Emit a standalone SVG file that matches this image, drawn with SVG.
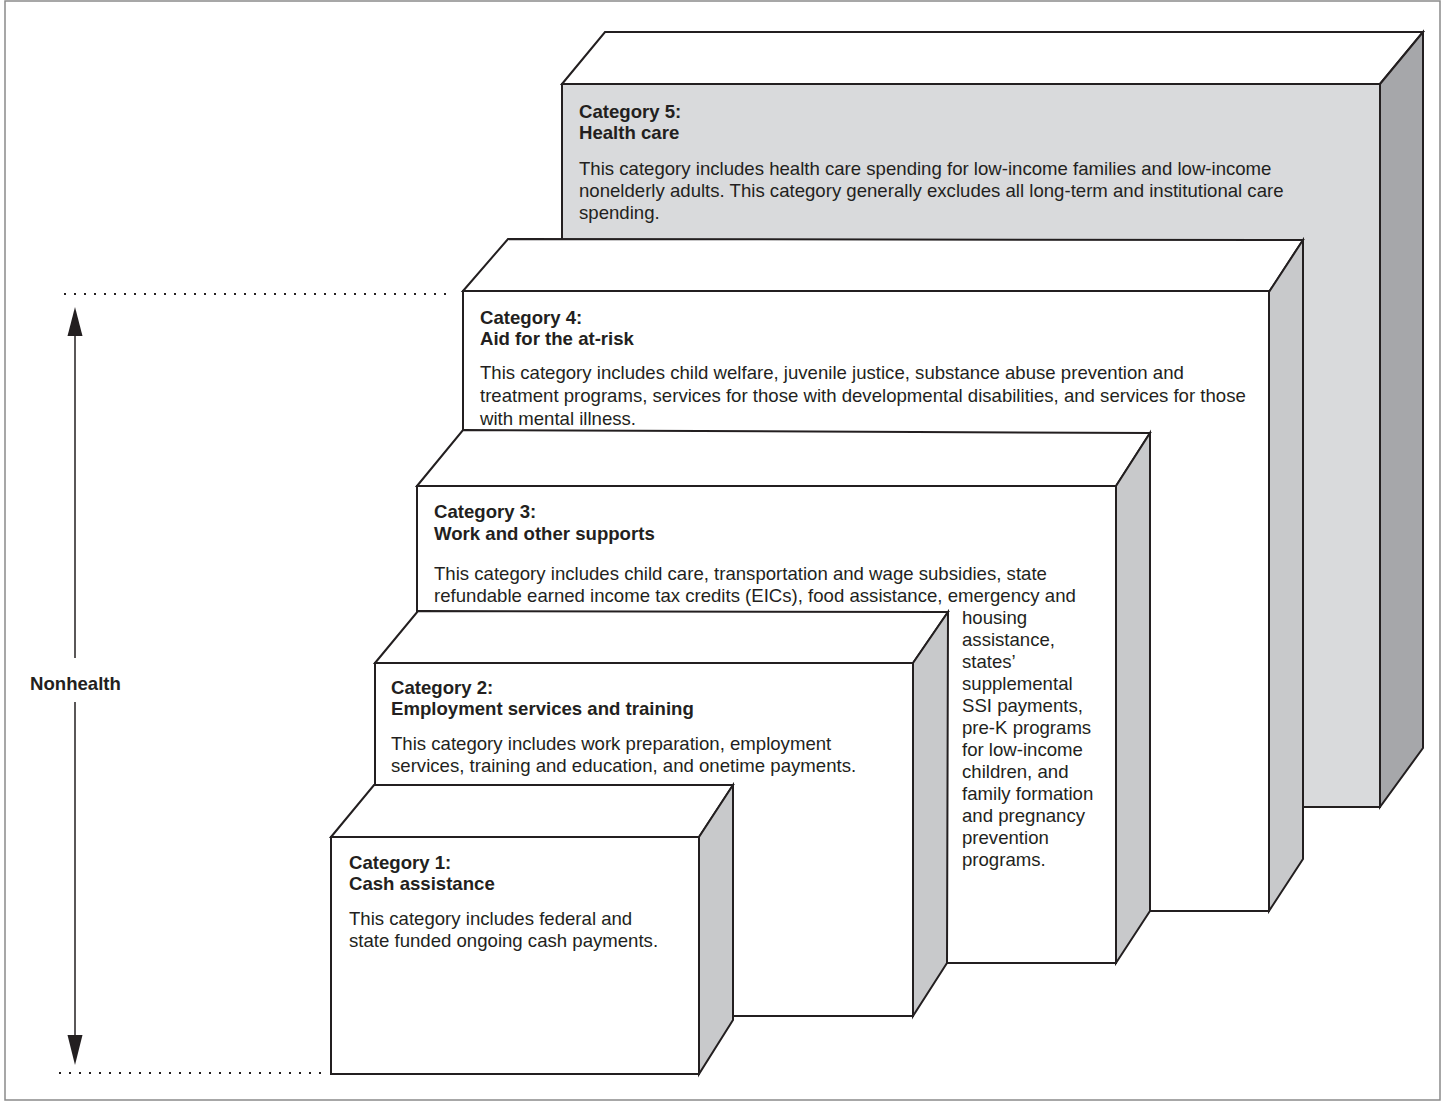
<svg xmlns="http://www.w3.org/2000/svg" width="1445" height="1102" viewBox="0 0 1445 1102">
<style>
.bg{fill:#ffffff}
.frame{fill:none;stroke:#8a8a8a;stroke-width:1.5}
.top{fill:#ffffff;stroke:#231f20;stroke-width:2;stroke-linejoin:miter}
.front{fill:#ffffff;stroke:#231f20;stroke-width:2}
.front5{fill:#d9dadc;stroke:#231f20;stroke-width:2}
.side{fill:#c8c9cb;stroke:#231f20;stroke-width:2;stroke-linejoin:miter}
.side5{fill:#a6a7aa;stroke:#231f20;stroke-width:2;stroke-linejoin:miter}
text{font-family:"Liberation Sans",Arial,sans-serif;font-size:18.6px;fill:#231f20}
.b{font-weight:bold}
.dot{stroke:#231f20;stroke-width:2;stroke-dasharray:2 8;fill:none}
.arr{stroke:#231f20;stroke-width:1.5;fill:none}
.head{fill:#231f20}
</style>
<rect class="bg" x="0" y="0" width="1445" height="1102"/>
<rect class="frame" x="5" y="1" width="1435" height="1099"/>

<g id="box5">
<polygon class="top" points="562,84 605,32 1423,32 1380,84"/>
<rect class="front5" x="562" y="84" width="818" height="723"/>
<polygon class="side5" points="1380,84 1423,32 1423,748 1380,807"/>
<text class="b" x="579" y="118">Category 5:</text>
<text class="b" x="579" y="139">Health care</text>
<text x="579" y="175">This category includes health care spending for low-income families and low-income</text>
<text x="579" y="197">nonelderly adults. This category generally excludes all long-term and institutional care</text>
<text x="579" y="219">spending.</text>
</g>

<g id="box4">
<polygon class="top" points="463,291 508,239 1303,240 1269,292"/>
<rect class="front" x="463" y="291" width="806" height="620"/>
<polygon class="side" points="1269,292 1303,240 1303,859 1269,911"/>
<text class="b" x="480" y="324">Category 4:</text>
<text class="b" x="480" y="345">Aid for the at-risk</text>
<text x="480" y="379">This category includes child welfare, juvenile justice, substance abuse prevention and</text>
<text x="480" y="402">treatment programs, services for those with developmental disabilities, and services for those</text>
<text x="480" y="425">with mental illness.</text>
</g>

<g id="box3">
<polygon class="top" points="417,486 463,430 1150,433 1116,486"/>
<rect class="front" x="417" y="486" width="699" height="477"/>
<polygon class="side" points="1116,486 1150,433 1150,911 1116,963"/>
<text class="b" x="434" y="518">Category 3:</text>
<text class="b" x="434" y="540">Work and other supports</text>
<text x="434" y="580">This category includes child care, transportation and wage subsidies, state</text>
<text x="434" y="602">refundable earned income tax credits (EICs), food assistance, emergency and</text>
<text x="962" y="624">housing</text>
<text x="962" y="646">assistance,</text>
<text x="962" y="668">states’</text>
<text x="962" y="690">supplemental</text>
<text x="962" y="712">SSI payments,</text>
<text x="962" y="734">pre-K programs</text>
<text x="962" y="756">for low-income</text>
<text x="962" y="778">children, and</text>
<text x="962" y="800">family formation</text>
<text x="962" y="822">and pregnancy</text>
<text x="962" y="844">prevention</text>
<text x="962" y="866">programs.</text>
</g>

<g id="box2">
<polygon class="top" points="375,663 418,611 948,612 913,663"/>
<rect class="front" x="375" y="663" width="538" height="353"/>
<polygon class="side" points="913,663 948,612 947,963 913,1016"/>
<text class="b" x="391" y="694">Category 2:</text>
<text class="b" x="391" y="715">Employment services and training</text>
<text x="391" y="750">This category includes work preparation, employment</text>
<text x="391" y="772">services, training and education, and onetime payments.</text>
</g>

<g id="box1">
<polygon class="top" points="331,837 374,785 733,785 699,837"/>
<rect class="front" x="331" y="837" width="368" height="237"/>
<polygon class="side" points="699,837 733,785 733,1020 699,1074"/>
<text class="b" x="349" y="869">Category 1:</text>
<text class="b" x="349" y="890">Cash assistance</text>
<text x="349" y="925">This category includes federal and</text>
<text x="349" y="947">state funded ongoing cash payments.</text>
</g>

<g id="connectors">
<line class="dot" x1="64" y1="294" x2="448" y2="294"/>
<line class="dot" x1="59" y1="1073" x2="322" y2="1073"/>
<line class="arr" x1="75" y1="333" x2="75" y2="658"/>
<line class="arr" x1="75" y1="702" x2="75" y2="1037"/>
<polygon class="head" points="75,307 67.5,336 82.5,336"/>
<polygon class="head" points="75,1065 67.5,1035 82.5,1035"/>
</g>
<g id="label-nonhealth">
<text class="b" x="30" y="690">Nonhealth</text>
</g>
</svg>
